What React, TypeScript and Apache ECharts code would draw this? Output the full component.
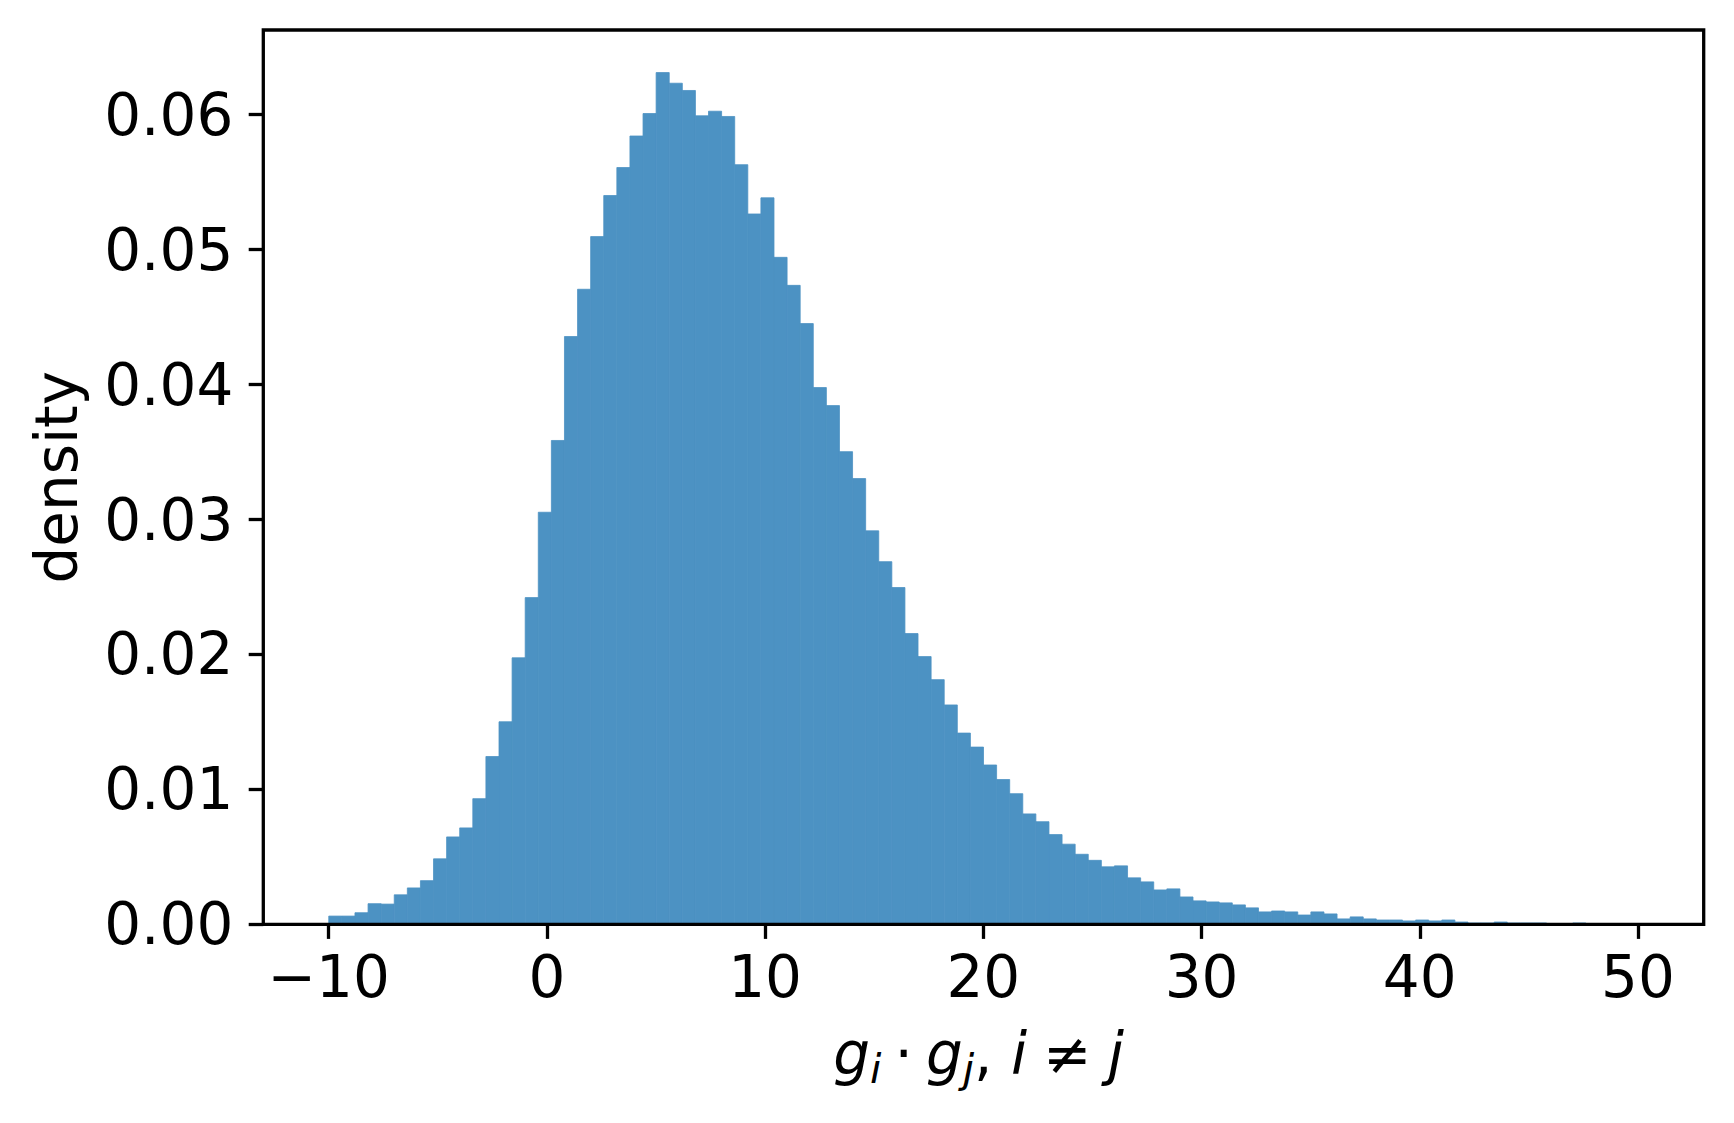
import React, { useEffect, useRef } from 'react';
import * as echarts from 'echarts';

// Histogram: 100 bins of width 0.6 starting at -10 (density)
const BIN_START = -10;
const BIN_WIDTH = 0.6;
const densities = [
  0.00061, 0.00061, 0.00086, 0.00153, 0.0015, 0.00219, 0.0027, 0.00324, 0.00486, 0.00649,
  0.00716, 0.00933, 0.01246, 0.01504, 0.01979, 0.02426, 0.0306, 0.03593, 0.04365, 0.04716,
  0.05107, 0.05412, 0.0562, 0.05854, 0.06021, 0.06325, 0.06246, 0.06192, 0.06004, 0.06038,
  0.05999, 0.05641, 0.05275, 0.05395, 0.04953, 0.04745, 0.04461, 0.03986, 0.03852, 0.0351,
  0.0331, 0.02922, 0.02693, 0.02501, 0.02159, 0.01988, 0.01817, 0.01629, 0.0142, 0.01316,
  0.01183, 0.01075, 0.0097, 0.0082, 0.00762, 0.00666, 0.00595, 0.0052, 0.00475, 0.00427,
  0.00434, 0.00345, 0.00315, 0.00255, 0.00263, 0.00203, 0.00174, 0.00166, 0.00159, 0.00144,
  0.00122, 0.00092, 0.00099, 0.00092, 0.00069, 0.00092, 0.00077, 0.0004, 0.00055, 0.0004,
  0.00032, 0.00032, 0.00025, 0.00032, 0.00025, 0.00032, 0.00017, 0.0001, 0.0001, 0.00017,
  0.0001, 0.0001, 0.0001, 0.00005, 0.00005, 0.0001, 0.00003, 0.00003, 0.00003, 0.00003,
];
const xTickMin = -10;
const xTickMax = 50;
const xTickStep = 10;
const yTickMax = 0.06;
const yTickStep = 0.01;
const yAxisTitle = 'density';
const xAxisTitle = '{v|g}{s|i}{op|·}{v|g}{s|j}{o|, }{v|i}{rel|≠}{v|j}';

const FONT = 'DejaVu Sans';
const FS = 58;
const BAR_COLOR = '#4c92c3';

export default function App() {
  const ref = useRef<HTMLDivElement>(null);
  useEffect(() => {
    if (!ref.current) return;
    const chart = echarts.init(ref.current, null, { renderer: 'svg' });
    const nBins = densities.length;
    const dataMin = BIN_START;
    const dataMax = BIN_START + nBins * BIN_WIDTH;
    const span = dataMax - dataMin;
    const xMin = dataMin - 0.05 * span;
    const xMax = dataMax + 0.05 * span;
    const yMax = Math.max(...densities) * 1.05;
    const barData = densities.map((d, i) => [
      BIN_START + i * BIN_WIDTH,
      BIN_START + (i + 1) * BIN_WIDTH,
      d,
    ]);
    const fmtX = (v: number) => (v < 0 ? '\u2212' + Math.abs(v) : String(v));
    const tickStyle = { show: true, length: 14.6, lineStyle: { color: '#000', width: 3.3 } };
    const hidden = {
      axisLine: { show: false, onZero: false },
      axisTick: { show: false },
      axisLabel: { show: false },
      splitLine: { show: false },
    };
    chart.setOption({
      animation: false,
      textStyle: { fontFamily: FONT },
      grid: [
        {
          left: 263.3, right: 30.3, top: 30, bottom: 198.7,
          show: true, z: 10, borderColor: '#000', borderWidth: 3.3,
          backgroundColor: 'transparent',
        },
        { left: 328.6, right: 96, top: 114.7, bottom: 198.7 },
      ],
      xAxis: [
        {
          gridIndex: 0, type: 'value', min: xMin, max: xMax, ...hidden,
          name: xAxisTitle, nameLocation: 'middle', nameGap: 95,
          nameTextStyle: {
            color: '#000', fontFamily: FONT, fontSize: FS, lineHeight: 70, padding: [0, 10, 0, 0],
            rich: {
              v: { fontStyle: 'italic', fontSize: FS, fontFamily: FONT, color: '#000', lineHeight: 70 },
              o: { fontSize: FS, fontFamily: FONT, color: '#000', lineHeight: 70 },
              op: { fontSize: FS, fontFamily: FONT, color: '#000', lineHeight: 70, padding: [0, 13, 0, 13] },
              rel: { fontSize: FS, fontFamily: FONT, color: '#000', lineHeight: 70, padding: [0, 16, 0, 16] },
              s: { fontStyle: 'italic', fontSize: 41, fontFamily: FONT, color: '#000', lineHeight: 42, verticalAlign: 'bottom' },
            },
          },
        },
        {
          gridIndex: 1, type: 'value', min: xTickMin, max: xTickMax, interval: xTickStep,
          axisLine: { show: false, onZero: false }, splitLine: { show: false },
          axisTick: tickStyle,
          axisLabel: { color: '#000', fontSize: FS, fontFamily: FONT, margin: 24, formatter: fmtX },
        },
      ],
      yAxis: [
        {
          gridIndex: 0, type: 'value', min: 0, max: yMax, ...hidden,
          name: yAxisTitle, nameLocation: 'middle', nameRotate: 90, nameGap: 177,
          nameTextStyle: { color: '#000', fontFamily: FONT, fontSize: FS, lineHeight: 58 },
        },
        {
          gridIndex: 1, type: 'value', min: 0, max: yTickMax, interval: yTickStep, offset: 65.3,
          axisLine: { show: false, onZero: false }, splitLine: { show: false },
          axisTick: tickStyle,
          axisLabel: { color: '#000', fontSize: FS, fontFamily: FONT, margin: 30, formatter: (v: number) => v.toFixed(2) },
        },
      ],
      series: [
        {
          type: 'custom',
          xAxisIndex: 0,
          yAxisIndex: 0,
          data: barData,
          encode: { x: [0, 1], y: 2 },
          renderItem: (params: any, api: any) => {
            const p0 = api.coord([api.value(0), api.value(2)]);
            const p1 = api.coord([api.value(1), 0]);
            return {
              type: 'rect',
              shape: { x: p0[0], y: p0[1], width: p1[0] - p0[0], height: p1[1] - p0[1] },
              style: { fill: BAR_COLOR, stroke: BAR_COLOR, lineWidth: 0.8 },
            };
          },
        },
      ],
    });
    return () => chart.dispose();
  }, []);
  return (
    <div
      ref={ref}
      style={{ position: 'fixed', left: 0, top: 0, width: 1734, height: 1123, background: '#fff' }}
    />
  );
}
